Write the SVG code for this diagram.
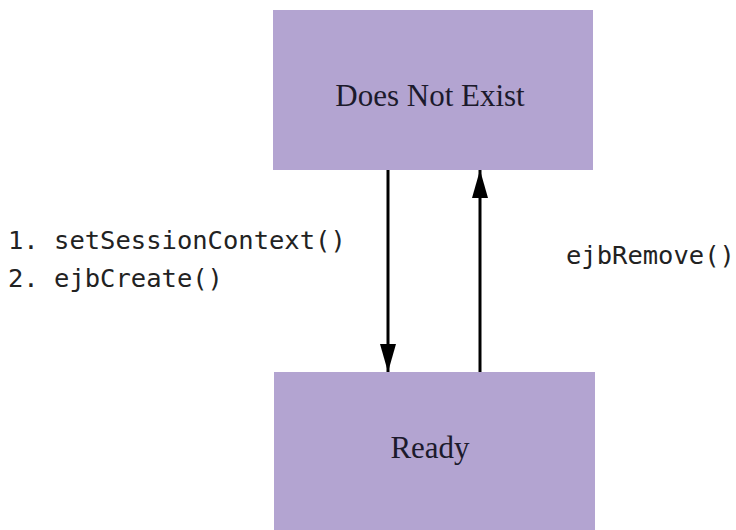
<svg xmlns="http://www.w3.org/2000/svg" width="736" height="530" viewBox="0 0 736 530">
<defs>
<style>
.box{fill:#b3a4d1;stroke:none}
.lbl{font-family:"Liberation Serif","Times New Roman",serif;font-size:31px;fill:#1c1a2c;text-anchor:middle}
.code{font-family:"DejaVu Sans Mono","Liberation Mono",monospace;font-size:25.5px;fill:#222}
.conn{stroke:#000;stroke-width:3;fill:none}
</style>
<marker id="head" viewBox="0 0 28 16" refX="28" refY="8" markerWidth="28" markerHeight="16" markerUnits="userSpaceOnUse" orient="auto">
<path d="M0,0 L28,8 L0,16 Z" fill="#000"/>
</marker>
</defs>
<rect width="736" height="530" fill="#fff"/>
<g id="node-does-not-exist">
<rect class="box" x="273" y="10" width="320" height="160"/>
<text class="lbl" x="430" y="106">Does Not Exist</text>
</g>
<g id="node-ready">
<rect class="box" x="274" y="372" width="321" height="160"/>
<text class="lbl" x="430" y="458">Ready</text>
</g>
<g id="connectors">
<line class="conn" x1="388" y1="170" x2="388" y2="372" marker-end="url(#head)"/>
<line class="conn" x1="480" y1="372" x2="480" y2="170" marker-end="url(#head)"/>
</g>
<g id="labels">
<text class="code" x="8" y="249" xml:space="preserve">1. setSessionContext()</text>
<text class="code" x="8" y="287" xml:space="preserve">2. ejbCreate()</text>
<text class="code" x="566" y="264">ejbRemove()</text>
</g>
</svg>
